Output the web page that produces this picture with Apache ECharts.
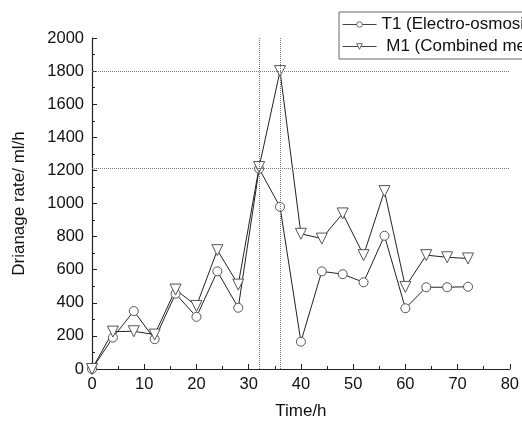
<!DOCTYPE html>
<html>
<head>
<meta charset="utf-8">
<script src="https://cdn.jsdelivr.net/npm/echarts@6/dist/echarts.min.js"></script>
<style>
  html, body { margin: 0; padding: 0; background: #fff; }
  #chart { width: 522px; height: 425px; }
</style>
</head>
<body>
<div id="chart"></div>
<script>
// Sampling times (h)
var hours = [0, 4, 8, 12, 16, 20, 24, 28, 32, 36, 40, 44, 48, 52, 56, 60, 64, 68, 72];
// Drainage rate, electro-osmosis (ml/h)
var t1Rates = [0, 190, 350, 180, 455, 315, 590, 370, 1210, 980, 165, 590, 573, 524, 805, 367, 494, 494, 497];
// Drainage rate, combined method (ml/h)
var m1Rates = [0, 226, 228, 208, 480, 381, 718, 510, 1220, 1800, 817, 788, 940, 688, 1075, 496, 688, 675, 668];
// Reference guide positions
var guideTimes = [32, 36];
var guideRates = [1210, 1800];
var yTicks = { min: 0, max: 2000, step: 200 };
var xTicks = { min: 0, max: 80, step: 10 };

function pairs(xs, ys) {
  return xs.map(function (x, i) { return [x, ys[i]]; });
}
function plain(v) { return String(v); }

var font = 'Arial, "Liberation Sans", sans-serif';
var axisColor = '#222';
var textColor = '#111';

var guideStyle = { color: '#777', type: 'dotted', width: 1 };
var guides = guideTimes.map(function (t) { return { xAxis: t }; })
  .concat(guideRates.map(function (r) { return { yAxis: r }; }));

var chart = echarts.init(document.getElementById('chart'), null, { renderer: 'canvas' });
chart.setOption({
  animation: false,
  backgroundColor: '#fff',
  grid: { left: 92, right: 11, top: 38, bottom: 51, containLabel: false },
  legend: {
    left: 339, top: 12,
    orient: 'vertical',
    itemWidth: 34, itemHeight: 7, itemGap: 5,
    padding: [4, 4, 4, 3],
    borderColor: '#666', borderWidth: 1,
    backgroundColor: '#fff',
    lineStyle: { width: 1, color: '#444' },
    itemStyle: { color: '#fff', borderColor: '#666', borderWidth: 1 },
    textStyle: { fontFamily: font, fontSize: 17, color: textColor },
    data: ['T1 (Electro-osmosis)', ' M1 (Combined method)']
  },
  xAxis: {
    type: 'value',
    min: xTicks.min, max: xTicks.max, interval: xTicks.step,
    name: 'Time/h', nameLocation: 'middle', nameGap: 34,
    nameTextStyle: { fontFamily: font, fontSize: 17, color: textColor },
    axisLine: { onZero: false, lineStyle: { color: axisColor, width: 1.2 } },
    axisTick: { inside: true, length: 5, lineStyle: { color: axisColor } },
    minorTick: { show: true, splitNumber: 2, length: 3, lineStyle: { color: axisColor } },
    axisLabel: { fontFamily: font, fontSize: 16.5, color: textColor, margin: 7, formatter: plain },
    splitLine: { show: false }
  },
  yAxis: {
    type: 'value',
    min: yTicks.min, max: yTicks.max, interval: yTicks.step,
    name: 'Drianage rate/ ml/h', nameLocation: 'middle', nameGap: 64,
    nameTextStyle: { fontFamily: font, fontSize: 17, color: textColor },
    axisLine: { show: true, lineStyle: { color: axisColor, width: 1.2 } },
    axisTick: { inside: true, length: 5, lineStyle: { color: axisColor } },
    minorTick: { show: true, splitNumber: 2, length: 3, lineStyle: { color: axisColor } },
    axisLabel: { fontFamily: font, fontSize: 16.5, color: textColor, margin: 8, formatter: plain },
    splitLine: { show: false }
  },
  series: [
    {
      name: 'T1 (Electro-osmosis)',
      type: 'line',
      data: pairs(hours, t1Rates),
      symbol: 'circle', symbolSize: 9,
      lineStyle: { color: '#222', width: 1 },
      itemStyle: { color: '#fff', borderColor: '#555', borderWidth: 1 },
      markLine: {
        silent: true, symbol: 'none', label: { show: false },
        lineStyle: guideStyle,
        data: guides
      }
    },
    {
      name: ' M1 (Combined method)',
      type: 'line',
      data: pairs(hours, m1Rates),
      symbol: 'triangle', symbolSize: 11, symbolRotate: 180,
      lineStyle: { color: '#222', width: 1 },
      itemStyle: { color: '#fff', borderColor: '#555', borderWidth: 1 }
    }
  ]
});
</script>
</body>
</html>
